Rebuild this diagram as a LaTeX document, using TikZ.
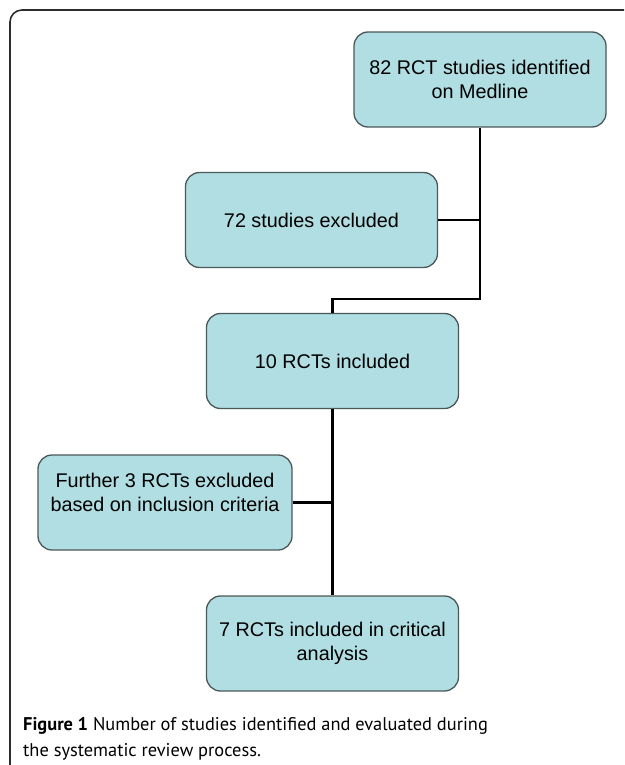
\documentclass[tikz,border=0pt]{standalone}
\usepackage{fontspec}
\setmainfont{Liberation Sans}
\newfontfamily\capfont{PT Sans}
\definecolor{boxfill}{RGB}{176,222,226}
\definecolor{boxline}{RGB}{75,88,88}
\definecolor{framegray}{RGB}{45,45,45}

\begin{document}
\begin{tikzpicture}[x=1pt, y=-1pt,
	stage/.style={draw=boxline, line width=1.3pt, fill=boxfill, rounded corners=14pt,
		minimum width=252pt, minimum height=95pt, inner sep=0pt, align=center,
		font=\fontsize{19.8}{24}\selectfont},
	link/.style={line width=2.6pt, black}]
		%%%%% START %%%%%
		
		\useasboundingbox (0, 0) rectangle (624, 765);
		\clip (0, 0) rectangle (624, 765);
		
		\draw[line width=1.6pt, color=framegray, rounded corners=12pt] (10, 780) -- (10, 10) -- (640, 10);
		
		\node[stage] (found) at (480, 79.5) {82 RCT studies identified\\on Medline};
		\node[stage] (excl1) at (311.5, 220) {72 studies excluded};
		\node[stage] (incl1) at (332.5, 361) {10 RCTs included};
		\node[stage, minimum width=254pt] (excl2) at (165, 502.5) {Further 3 RCTs excluded\\based on inclusion criteria\\[-4pt]\mbox{}};
		\node[stage] (final) at (332.5, 643.5) {7 RCTs included in critical\\analysis};
		
		\coordinate (turn) at (480, 299);
		\draw[link] (found.south) -- (turn) -| (incl1.north);
		\draw[link] (excl1.east) -- (excl1.east -| found.south);
		\draw[link] (incl1.south) -- (final.north);
		\draw[link] (excl2.east) -- (excl2.east -| incl1.south);
		
		\node[anchor=base west, align=left, inner sep=0pt, font=\capfont\fontsize{18.4}{26}\selectfont] (caption) at (23, 756)
			{\textbf{Figure 1} Number of studies identified and evaluated during\\the systematic review process.};
		
		%%%%% END %%%%%
\end{tikzpicture}
\end{document}
